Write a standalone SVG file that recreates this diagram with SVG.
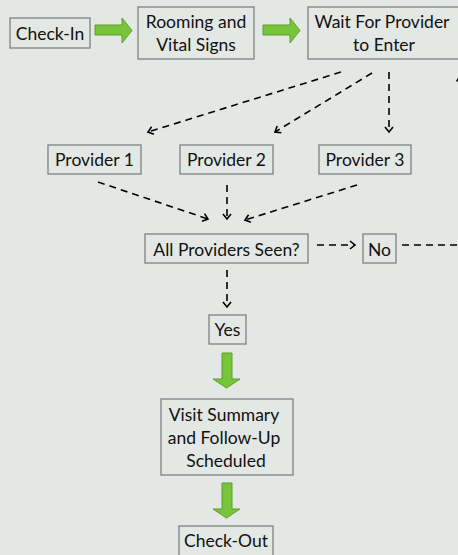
<svg xmlns="http://www.w3.org/2000/svg" width="458" height="555" viewBox="0 0 458 555">
<defs>
<marker id="ah" markerWidth="10" markerHeight="10" refX="7" refY="5" orient="auto" markerUnits="userSpaceOnUse">
<path d="M2,1 L7,5 L2,9" fill="none" stroke="#000" stroke-width="1.6"/>
</marker>
<style>
.box{fill:#E3E8E4;stroke:#808080;stroke-width:1.3}
.t{font-family:Lato,"Liberation Sans",sans-serif;font-size:17.5px;fill:#111;text-anchor:middle}
.d{fill:none;stroke:#000;stroke-width:1.6;stroke-dasharray:7 5}
.g{fill:#78C43A;stroke:#5D9E2C;stroke-width:1}
</style>
</defs>
<rect width="458" height="555" fill="#E3E8E4"/>
<g id="connectors">
<path class="g" d="M95,25 H122 V18 L132,30.5 L122,43 V35 H95 Z"/>
<path class="g" d="M263,25 H290 V18 L300,30.5 L290,43 V35 H263 Z"/>
<path class="g" d="M222,353 V379 H213 L226.5,388 L240,379 H232 V353 Z"/>
<path class="g" d="M222,483 V509 H213 L226.5,518 L240,509 H232 V483 Z"/>
<path class="d" d="M341,72 L148,132" marker-end="url(#ah)"/>
<path class="d" d="M372,73 L275,132" marker-end="url(#ah)"/>
<path class="d" d="M389,72 L389,132" marker-end="url(#ah)"/>
<path class="d" d="M98,182 L208,219" marker-end="url(#ah)"/>
<path class="d" d="M227,185 L227,219" marker-end="url(#ah)"/>
<path class="d" d="M357,185 L245,220" marker-end="url(#ah)"/>
<path class="d" d="M317,245 L355,245" marker-end="url(#ah)"/>
<path class="d" d="M227,270 L227,307" marker-end="url(#ah)"/>
<path class="d" d="M402,245 L475,245"/>
<path class="d" d="M476,200 L460,76" marker-end="url(#ah)"/>
</g>
<g id="checkin"><rect class="box" x="10" y="18" width="80" height="30"/><text class="t" x="50" y="40">Check-In</text></g>
<g id="rooming"><rect class="box" x="138" y="7" width="116" height="52"/><text class="t" x="196" y="28">Rooming and</text><text class="t" x="196" y="51">Vital Signs</text></g>
<g id="wait"><rect class="box" x="308" y="7" width="160" height="52"/><text class="t" x="382" y="28">Wait For Provider</text><text class="t" x="384" y="51">to Enter</text></g>
<g id="provider1"><rect class="box" x="48" y="145" width="93" height="29"/><text class="t" x="94.5" y="166">Provider 1</text></g>
<g id="provider2"><rect class="box" x="180" y="145" width="93" height="29"/><text class="t" x="226.5" y="166">Provider 2</text></g>
<g id="provider3"><rect class="box" x="319" y="145" width="92" height="29"/><text class="t" x="365" y="166">Provider 3</text></g>
<g id="allseen"><rect class="box" x="145" y="234" width="163" height="29"/><text class="t" x="226.5" y="256">All Providers Seen?</text></g>
<g id="no"><rect class="box" x="363" y="234" width="33" height="29"/><text class="t" x="379.5" y="256">No</text></g>
<g id="yes"><rect class="box" x="209" y="315" width="37" height="29"/><text class="t" x="227.5" y="336">Yes</text></g>
<g id="visit"><rect class="box" x="161" y="399" width="132" height="76"/><text class="t" x="224" y="421">Visit Summary</text><text class="t" x="224" y="444">and Follow-Up</text><text class="t" x="226" y="467">Scheduled</text></g>
<g id="checkout"><rect class="box" x="179" y="526" width="94" height="35"/><text class="t" x="226" y="547">Check-Out</text></g>
</svg>
